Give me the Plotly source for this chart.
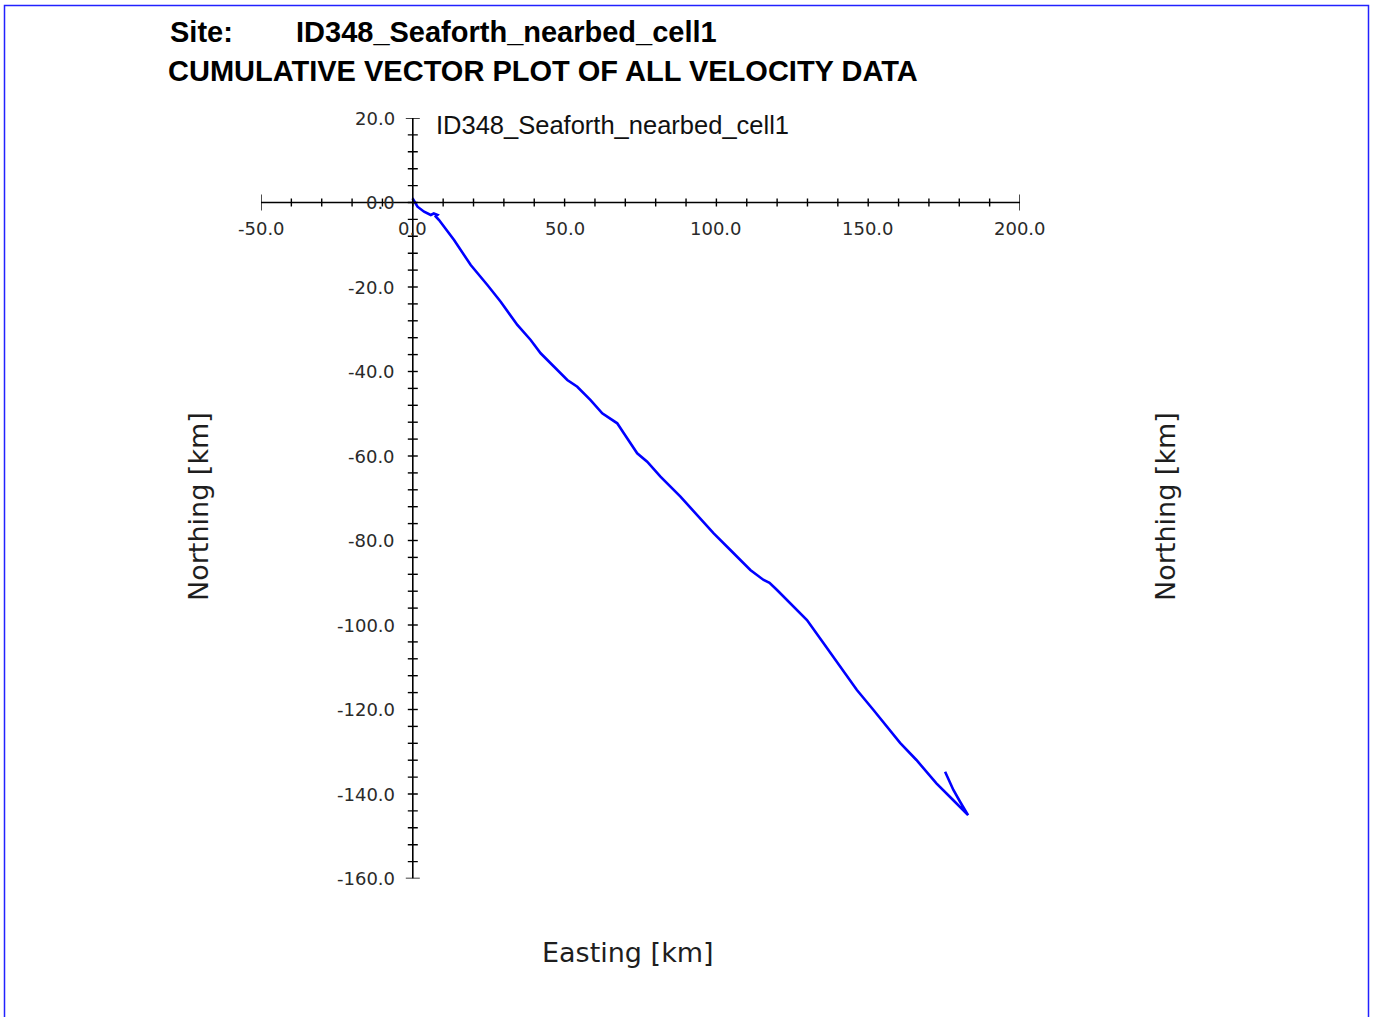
import plotly.graph_objects as go

# ---------------- data ----------------
site_name = "ID348_Seaforth_nearbed_cell1"
title_line2 = "CUMULATIVE VECTOR PLOT OF ALL VELOCITY DATA"

easting_km = [-0.1, 1.55, 3.72, 5.92, 6.9, 8.12, 7.57, 8.65, 13.59, 19.08, 24.57, 28.95,
              34.44, 38.82, 42.11, 46.48, 50.89, 54.18, 58.55, 62.4, 67.34, 69.51, 73.91,
              77.2, 81.58, 88.16, 94.74, 99.11, 104.6, 111.18, 115.56, 117.5, 119.97,
              125.43, 129.83, 135.3, 140.79, 146.28, 151.74, 157.24, 160.5, 165.89,
              172.47, 177.96, 182.9, 180.26, 178.06, 175.33]
northing_km = [1.0, -0.99, -2.18, -2.96, -2.6, -2.96, -3.31, -4.14, -8.88, -14.79, -19.53,
               -23.48, -28.99, -32.54, -35.69, -38.86, -42.01, -43.6, -46.75, -49.9, -52.26,
               -54.63, -59.36, -61.35, -64.9, -69.63, -74.75, -78.3, -82.25, -86.98, -89.35,
               -90.0, -91.72, -95.67, -98.82, -104.33, -109.87, -115.38, -120.12, -124.85,
               -127.9, -131.95, -137.47, -141.42, -145.0, -141.83, -139.05, -134.72]

x_major = [-50, 0, 50, 100, 150, 200]
x_labels = ["-50.0", "0.0", "50.0", "100.0", "150.0", "200.0"]
x_minor_step = 10
y_major = [20, 0, -20, -40, -60, -80, -100, -120, -140, -160]
y_labels = ["20.0", "0.0", "-20.0", "-40.0", "-60.0", "-80.0", "-100.0", "-120.0", "-140.0", "-160.0"]
y_minor_step = 4

X_RANGE = [-50, 200]
Y_RANGE = [-160, 20]

W, H = 1378, 1017
TICK_FONT = dict(family="DejaVu Sans", size=18, color="#2a2a2a")
AXT_FONT = dict(family="DejaVu Sans", size=27, color="#1e1e1e")

fig = go.Figure()

fig.add_trace(go.Scatter(x=easting_km, y=northing_km, mode="lines",
                         line=dict(color="#0000ff", width=2.6), hoverinfo="skip",
                         showlegend=False))

shapes = []
# axis lines crossing at origin
shapes.append(dict(type="line", xref="x", yref="y", x0=X_RANGE[0], x1=X_RANGE[1], y0=0, y1=0,
                   line=dict(color="black", width=1.6)))
shapes.append(dict(type="line", xref="x", yref="y", x0=0, x1=0, y0=Y_RANGE[0], y1=Y_RANGE[1],
                   line=dict(color="black", width=1.6)))

# x ticks
xv = X_RANGE[0]
while xv <= X_RANGE[1] + 1e-9:
    half = 8 if xv in (X_RANGE[0], X_RANGE[1]) else 4
    shapes.append(dict(type="line", xref="x", yref="y", ysizemode="pixel", yanchor=0,
                       x0=xv, x1=xv, y0=-half, y1=half, line=dict(color="black", width=1.4)))
    xv += x_minor_step
# y ticks
yv = Y_RANGE[1]
while yv >= Y_RANGE[0] - 1e-9:
    half = 7 if yv in (Y_RANGE[0], Y_RANGE[1]) else 5
    shapes.append(dict(type="line", xref="x", yref="y", xsizemode="pixel", xanchor=0,
                       x0=-half, x1=half, y0=yv, y1=yv, line=dict(color="black", width=1.4)))
    yv -= y_minor_step

# page border
shapes.append(dict(type="rect", xref="paper", yref="paper", x0=4.5 / W, x1=1368.5 / W,
                   y0=-0.02, y1=1 - 5.5 / H, line=dict(color="#2222ff", width=1.5)))

annotations = []
for v, t in zip(x_major, x_labels):
    annotations.append(dict(x=v, y=0, xref="x", yref="y", text=t, showarrow=False,
                            xanchor="center", yanchor="middle", yshift=-26, font=TICK_FONT))
for v, t in zip(y_major, y_labels):
    annotations.append(dict(x=0, y=v, xref="x", yref="y", text=t, showarrow=False,
                            xanchor="right", yanchor="middle", xshift=-16, font=TICK_FONT))

TITLE_FONT = dict(family="Liberation Sans, Arial", size=29, color="black")
annotations += [
    dict(x=168 / W, y=1 - 32 / H, xref="paper", yref="paper", text="<b>Site:</b>",
         showarrow=False, xanchor="left", yanchor="middle", font=TITLE_FONT),
    dict(x=294 / W, y=1 - 32 / H, xref="paper", yref="paper", text="<b>" + site_name + "</b>",
         showarrow=False, xanchor="left", yanchor="middle", font=TITLE_FONT),
    dict(x=166 / W, y=1 - 71 / H, xref="paper", yref="paper", text="<b>" + title_line2 + "</b>",
         showarrow=False, xanchor="left", yanchor="middle", font=TITLE_FONT),
    dict(x=434 / W, y=1 - 125 / H, xref="paper", yref="paper", text=site_name,
         showarrow=False, xanchor="left", yanchor="middle",
         font=dict(family="Liberation Sans, Arial", size=25.5, color="#111111")),
    dict(x=198 / W, y=1 - 507 / H, xref="paper", yref="paper", text="Northing [km]",
         showarrow=False, textangle=-90, xanchor="center", yanchor="middle", font=AXT_FONT),
    dict(x=1165 / W, y=1 - 507 / H, xref="paper", yref="paper", text="Northing [km]",
         showarrow=False, textangle=-90, xanchor="center", yanchor="middle", font=AXT_FONT),
    dict(x=628 / W, y=1 - 952 / H, xref="paper", yref="paper", text="Easting [km]",
         showarrow=False, xanchor="center", yanchor="middle", font=AXT_FONT),
]

fig.update_layout(
    width=W, height=H, margin=dict(l=0, r=0, t=0, b=0),
    paper_bgcolor="white", plot_bgcolor="white",
    xaxis=dict(domain=[261 / W, 1020 / W], range=X_RANGE, visible=False, fixedrange=True),
    yaxis=dict(domain=[1 - 878.5 / H, 1 - 118 / H], range=Y_RANGE, visible=False, fixedrange=True),
    shapes=shapes, annotations=annotations, showlegend=False,
)

fig.write_html("out.html")
